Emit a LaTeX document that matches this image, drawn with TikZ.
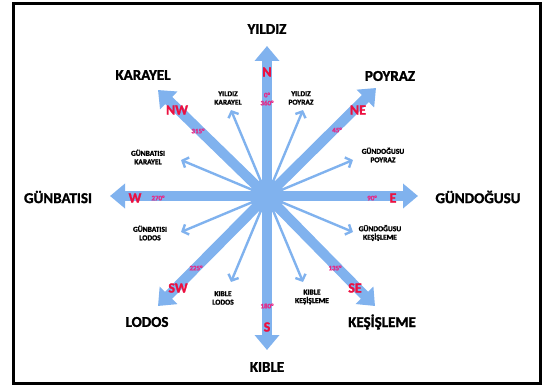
\documentclass[tikz,border=0pt]{standalone}
\usepackage{fontspec}
\setmainfont{Carlito}[BoldFeatures={FakeBold=1.6}]
\usetikzlibrary{arrows.meta}

\definecolor{windblue}{RGB}{128,178,238}
\definecolor{dirred}{RGB}{236,16,64}
\definecolor{degpink}{RGB}{230,40,135}

\begin{document}
\begin{tikzpicture}[x=1pt, y=-1pt,
  mainarrow/.style={windblue, line width=10pt, -{Triangle[width=24pt,length=15pt]}},
  subarrow/.style={windblue, line width=2.4pt, -{Straight Barb[length=5pt,width=11pt]}},
  windname/.style={font=\fontsize{15}{16}\selectfont\bfseries},
  subname/.style={font=\fontsize{7.5}{8.5}\selectfont\bfseries, align=center},
  dirletter/.style={text=dirred, font=\fontsize{14}{15}\selectfont\bfseries},
  degree/.style={text=degpink, font=\fontsize{7}{8}\selectfont\bfseries, align=center}]

\useasboundingbox (0,0) rectangle (543,385);

% Frame
\draw[line width=3pt] (13,4) rectangle (540,383);

% Center of the rose
\node[circle, fill=windblue, minimum size=34pt, inner sep=0pt] (O) at (267,196) {};

% Tips of the main winds
\coordinate (tN)  at (267,46);
\coordinate (tS)  at (267,350);
\coordinate (tE)  at (418,196);
\coordinate (tW)  at (110,196);
\coordinate (tNE) at (376,88);
\coordinate (tNW) at (158,90);
\coordinate (tSE) at (375,306);
\coordinate (tSW) at (158,306);

% Tips of the intermediate winds
\coordinate (tYK) at (231,110);
\coordinate (tYP) at (303,110);
\coordinate (tGK) at (181,160);
\coordinate (tGP) at (353,160);
\coordinate (tGL) at (181,232);
\coordinate (tGS) at (353,232);
\coordinate (tKL) at (231,282);
\coordinate (tKS) at (303,282);

% Intermediate arrows
\foreach \t in {tYK,tYP,tGK,tGP,tGL,tGS,tKL,tKS}
  \draw[subarrow] (O.center) -- (\t);

% Main arrows
\foreach \t in {tN,tS,tE,tW,tNE,tNW,tSE,tSW}
  \draw[mainarrow] (O.center) -- (\t);

% Main wind names
\node[windname] (yildiz)    at (267,29)  {YILDIZ};
\node[windname] (kible)     at (267,367) {KIBLE};
\node[windname] (gunbatisi) at (58,197)  {GÜNBATISI};
\node[windname] (gundogusu) at (478,197) {GÜNDOĞUSU};
\node[windname] (karayel)   at (143,75)  {KARAYEL};
\node[windname] (poyraz)    at (390,76)  {POYRAZ};
\node[windname] (lodos)     at (147,322) {LODOS};
\node[windname] (kesisleme) at (382,322) {KEŞİŞLEME};

% Intermediate wind names
\node[subname] (yk) at (228,98)  {YILDIZ\\KARAYEL};
\node[subname] (yp) at (301,98)  {YILDIZ\\POYRAZ};
\node[subname] (gk) at (148,157) {GÜNBATISI\\KARAYEL};
\node[subname] (gp) at (383,155) {GÜNDOĞUSU\\POYRAZ};
\node[subname] (gl) at (150,233) {GÜNBATISI\\LODOS};
\node[subname] (gs) at (380,233) {GÜNDOĞUSU\\KEŞİŞLEME};
\node[subname] (kl) at (223,298) {KIBLE\\LODOS};
\node[subname] (ks) at (312,297) {KIBLE\\KEŞİŞLEME};

% Direction letters
\node[dirletter] (lN)  at (267,72)  {N};
\node[dirletter] (lS)  at (267,327) {S};
\node[dirletter] (lE)  at (393,198) {E};
\node[dirletter] (lW)  at (135,198) {W};
\node[dirletter] (lNE) at (358,110) {NE};
\node[dirletter] (lNW) at (177,110) {NW};
\node[dirletter] (lSE) at (355,288) {SE};
\node[dirletter] (lSW) at (178,288) {SW};

% Degrees
\node[degree] (d0)   at (267,99)  {0°\\360°};
\node[degree] (d45)  at (337,130) {45°};
\node[degree] (d90)  at (372,198) {90°};
\node[degree] (d135) at (335,268) {135°};
\node[degree] (d180) at (267,306) {180°};
\node[degree] (d225) at (196,268) {225°};
\node[degree] (d270) at (158,198) {270°};
\node[degree] (d315) at (198,131) {315°};

\end{tikzpicture}
\end{document}
